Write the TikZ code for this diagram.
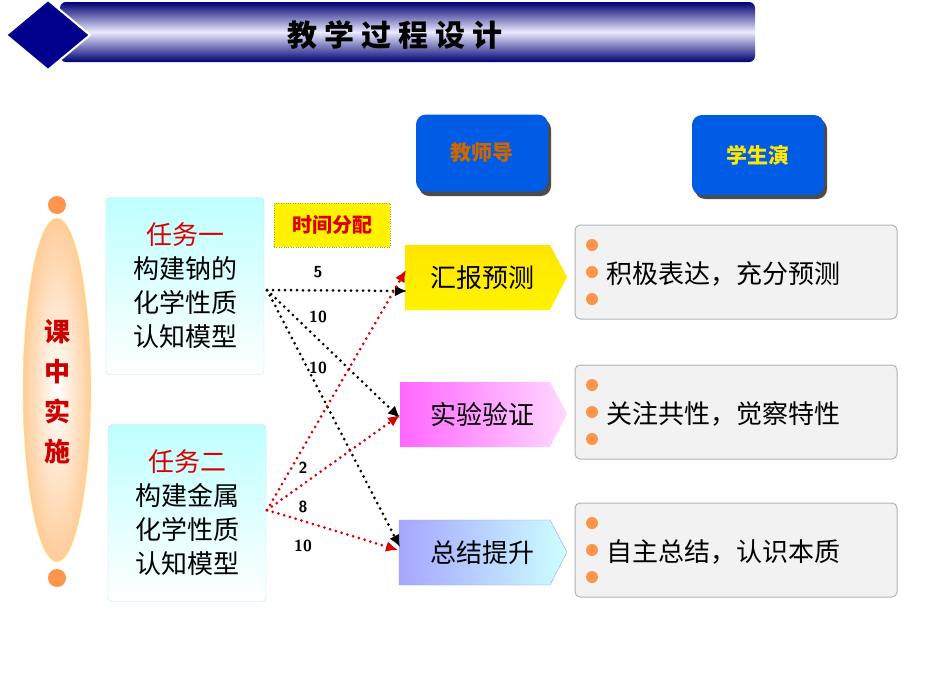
\documentclass[tikz,border=0pt]{standalone}
\usepackage{fontspec}
\setmainfont{Noto Sans CJK SC}
\usetikzlibrary{arrows.meta,shapes.geometric}
\tikzset{
  taskbox/.style={draw=cyan!30,rounded corners=4pt,top color=cyan!25,bottom color=white,align=center,font=\fontsize{26}{34}\selectfont,inner sep=0pt},
  rolebox/.style={fill=blue!60!cyan!90!black,rounded corners=10pt,font=\bfseries\fontsize{21}{24}\selectfont},
  notebox/.style={draw=gray!60,fill=gray!10,rounded corners=5pt,line width=1pt},
  dot/.style={fill=orange!80!red!70,draw=none},
  steptext/.style={font=\fontsize{26}{30}\selectfont},
  tlabel/.style={font=\sffamily\bfseries\fontsize{16}{18}\selectfont},
  blackarr/.style={line width=3pt,line cap=round,dash pattern=on 0pt off 6pt,-{Latex[length=12pt,width=11pt]}},
  redarr/.style={blackarr,red!85!black}
}
\begin{document}
\begin{tikzpicture}[x=1pt,y=1pt,yscale=-1]
\useasboundingbox (0,0) rectangle (930,697);
% header
\shade[top color=blue!45!black,bottom color=blue!45!black,middle color=blue!8,rounded corners=6pt] (60,2) rectangle (755,62);
\filldraw[blue!55!black,draw=white,line width=2pt] (48,0) -- (90,35) -- (48,70) -- (6,35) -- cycle;
\node[font=\bfseries\fontsize{30}{34}\selectfont] (title) at (395,35) {教 学 过 程 设 计};
% roles
\fill[black!70,rounded corners=10pt] (419,119) rectangle (551,196);
\fill[black!70,rounded corners=10pt] (695,119) rectangle (827,199);
\node[rolebox,minimum width=132pt,minimum height=77pt,text=orange!80!black] (teacher) at (482,153) {教师导};
\node[rolebox,minimum width=132pt,minimum height=80pt,text=yellow!90!orange] (student) at (758,155) {学生演};
% left column
\shade[inner color=white,outer color=orange!40,draw=yellow!50] (57,390) ellipse (34 and 172);
\fill[dot] (57,205) circle (9);
\fill[dot] (57,578) circle (9);
\node[align=center,text=red!80!black,font=\bfseries\fontsize{26}{40}\selectfont] (stage) at (57,392) {课\\中\\实\\施};
\node[taskbox,minimum width=158pt,minimum height=177pt] (task1) at (185,286) {\textcolor{red!85!black}{任务一}\\构建钠的\\化学性质\\认知模型};
\node[taskbox,minimum width=158pt,minimum height=177pt] (task2) at (187,513) {\textcolor{red!85!black}{任务二}\\构建金属\\化学性质\\认知模型};
\node[draw=yellow!60!black,dotted,fill=yellow,text=red!85!black,font=\bfseries\fontsize{20}{22}\selectfont,minimum width=116pt,minimum height=44pt] (time) at (332,225) {时间分配};
% steps
\shade[top color=yellow!80!orange,bottom color=yellow!90!orange] (405,245) -- (550,245) -- (567,277) -- (550,310) -- (405,310) -- cycle;
\node[steptext] (step1) at (482,278) {汇报预测};
\shade[left color=magenta!60,right color=magenta!15] (400,382) -- (550,382) -- (567,414) -- (550,447) -- (400,447) -- cycle;
\node[steptext] (step2) at (482,414) {实验验证};
\shade[left color=blue!35,right color=cyan!20,draw=blue!40] (399,520) -- (550,520) -- (567,552) -- (550,585) -- (399,585) -- cycle;
\node[steptext] (step3) at (482,553) {总结提升};
% notes
\foreach \y/\t [count=\i] in {225/积极表达，充分预测,365/关注共性，觉察特性,503/自主总结，认识本质}{
  \draw[notebox] (575,\y) rectangle (897,\y+94);
  \foreach \d in {20,47,74} \fill[dot] (592,\y+\d) circle (6);
  \node[steptext,anchor=west] (note\i) at (603,\y+49) {\t};
}
% arrows
\coordinate (out1) at (267,290);
\coordinate (out2) at (267,510);
\draw[blackarr] (out1) -- (407,291);
\draw[blackarr] (out1) -- (400,418);
\draw[blackarr] (out1) -- (400,547);
\draw[redarr] (out2) -- (406,270);
\draw[redarr] (out2) -- (400,415);
\draw[redarr] (out2) -- (398,550);
\node[tlabel] (l1) at (318,272) {5};
\node[tlabel] (l2) at (318,317) {10};
\node[tlabel] (l3) at (318,368) {10};
\node[tlabel] (l4) at (303,468) {2};
\node[tlabel] (l5) at (303,507) {8};
\node[tlabel] (l6) at (303,546) {10};
\end{tikzpicture}
\end{document}
